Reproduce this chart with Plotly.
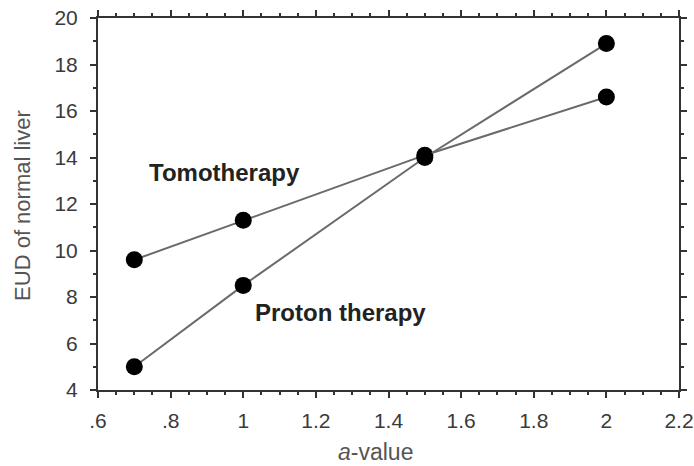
import plotly.graph_objects as go

# a-value settings and EUD of normal liver for each modality
a_values = [0.7, 1.0, 1.5, 2.0]
eud_tomotherapy = [9.6, 11.3, 14.1, 16.6]
eud_proton = [5.0, 8.5, 14.0, 18.9]

x_tickvals = [0.6, 0.8, 1.0, 1.2, 1.4, 1.6, 1.8, 2.0, 2.2]
x_ticktext = [".6", ".8", "1", "1.2", "1.4", "1.6", "1.8", "2", "2.2"]
y_tickvals = [4, 6, 8, 10, 12, 14, 16, 18, 20]

FONT = "Liberation Sans, Arial, sans-serif"
line_style = dict(color="#6a6a6a", width=2)
marker_style = dict(color="black", size=17)

fig = go.Figure()
fig.add_trace(go.Scatter(x=a_values, y=eud_tomotherapy, mode="lines+markers",
                         line=line_style, marker=marker_style, name="Tomotherapy"))
fig.add_trace(go.Scatter(x=a_values, y=eud_proton, mode="lines+markers",
                         line=line_style, marker=marker_style, name="Proton therapy"))

axis_common = dict(
    showgrid=False, zeroline=False, showline=True, linecolor="#333", linewidth=2,
    mirror="ticks", ticks="outside", ticklen=6, tickwidth=2, tickcolor="#333",
    tickfont=dict(family=FONT, size=21, color="#3a3a3a"), automargin=False,
)

fig.update_xaxes(range=[0.6, 2.2], tickvals=x_tickvals, ticktext=x_ticktext,
                 minor=dict(dtick=0.05, ticklen=3, tickwidth=2, tickcolor="#333", ticks="outside"),
                 ticklabelstandoff=5, **axis_common)
fig.update_yaxes(range=[4, 20], tickvals=y_tickvals,
                 minor=dict(dtick=1, ticklen=3, tickwidth=2, tickcolor="#333", ticks="outside"),
                 ticklabelstandoff=8, **axis_common)

fig.add_annotation(text="<b>Tomotherapy</b>", x=0.0843, y=0.586, xref="paper", yref="paper",
                   xanchor="left", yanchor="middle", showarrow=False,
                   font=dict(family=FONT, size=24, color="#222"))
fig.add_annotation(text="<b>Proton therapy</b>", x=0.267, y=0.207, xref="paper", yref="paper",
                   xanchor="left", yanchor="middle", showarrow=False,
                   font=dict(family=FONT, size=24, color="#222"))
fig.add_annotation(text="<i>a</i>-value", x=0.477, y=-0.167, xref="paper", yref="paper",
                   xanchor="center", yanchor="middle", showarrow=False,
                   font=dict(family=FONT, size=23, color="#555"))
fig.add_annotation(text="EUD of normal liver", x=-0.129, y=0.495, xref="paper", yref="paper",
                   xanchor="center", yanchor="middle", showarrow=False, textangle=-90,
                   font=dict(family=FONT, size=22, color="#555"))

fig.update_layout(
    width=694, height=466, showlegend=False,
    margin=dict(l=98, r=15, t=18, b=76),
    paper_bgcolor="white", plot_bgcolor="white",
)

fig.write_html("out.html")
